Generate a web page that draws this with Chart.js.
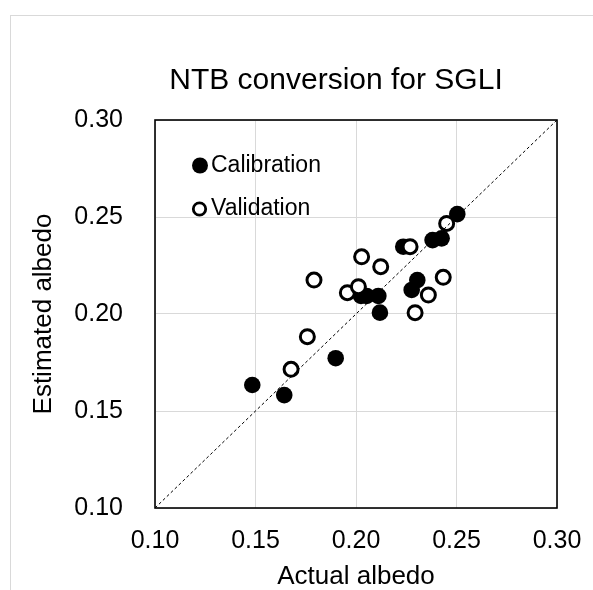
<!DOCTYPE html>
<html>
<head>
<meta charset="utf-8">
<script src="https://cdn.jsdelivr.net/npm/chart.js@4/dist/chart.umd.min.js"></script>
<style>
  html, body { margin: 0; padding: 0; background: #fff; overflow: hidden; }
  #wrap { position: relative; width: 593px; height: 590px; overflow: hidden; }
  #frame { position: absolute; left: 10px; top: 15px; width: 700px; height: 700px; border: 1px solid #d9d9d9; box-sizing: border-box; }
  #cv { position: absolute; left: 0; top: 0; }
</style>
</head>
<body>
<div id="wrap">
  <div id="frame"></div>
  <canvas id="cv" width="672" height="590"></canvas>
</div>
<script>
// ---- data ----
const calibrationX = [0.1484, 0.1643, 0.1899, 0.2119, 0.2025, 0.2053, 0.2111, 0.2235, 0.2277, 0.2305, 0.2381, 0.2426, 0.2504];
const calibrationY = [0.1634, 0.1582, 0.1772, 0.2007, 0.2093, 0.2093, 0.2093, 0.2347, 0.2124, 0.2175, 0.2381, 0.2390, 0.2515];
const validationX = [0.1677, 0.1758, 0.1791, 0.1957, 0.2012, 0.2028, 0.2123, 0.2269, 0.2294, 0.2360, 0.2434, 0.2451];
const validationY = [0.1715, 0.1883, 0.2175, 0.2110, 0.2141, 0.2295, 0.2244, 0.2347, 0.2007, 0.2098, 0.2189, 0.2467];
const oneToOneX = [0.10, 0.30];
const oneToOneY = [0.10, 0.30];
const axisMin = 0.10, axisMax = 0.30, axisStep = 0.05;
const titleText = 'NTB conversion for SGLI';
const xTitle = 'Actual albedo';
const yTitle = 'Estimated albedo';
const seriesNames = ['Calibration', 'Validation'];

const toPts = (xs, ys) => xs.map((x, i) => ({ x: x, y: ys[i] }));
const FONT = "'Liberation Sans', Arial, sans-serif";

const framePlugin = {
  id: 'frame',
  afterDatasetsDraw(chart) {
    const { ctx, chartArea: a } = chart;
    ctx.save();
    ctx.strokeStyle = '#000';
    ctx.lineWidth = 1.6;
    ctx.strokeRect(a.left, a.top, a.right - a.left, a.bottom - a.top);
    ctx.restore();
  }
};

const legendPlugin = {
  id: 'innerLegend',
  afterDraw(chart) {
    const { ctx, chartArea: a } = chart;
    ctx.save();
    ctx.font = '23px ' + FONT;
    ctx.textBaseline = 'middle';
    ctx.fillStyle = '#000';
    ctx.beginPath();
    ctx.arc(a.left + 45, a.top + 45.5, 8, 0, Math.PI * 2);
    ctx.fill();
    ctx.fillText(seriesNames[0], a.left + 56, a.top + 45.5);
    ctx.beginPath();
    ctx.arc(a.left + 44.5, a.top + 89, 6.2, 0, Math.PI * 2);
    ctx.fillStyle = '#fff';
    ctx.fill();
    ctx.lineWidth = 2.8;
    ctx.strokeStyle = '#000';
    ctx.stroke();
    ctx.fillStyle = '#000';
    ctx.fillText(seriesNames[1], a.left + 56, a.top + 89);
    ctx.restore();
  }
};

new Chart(document.getElementById('cv'), {
  type: 'scatter',
  data: {
    datasets: [
      {
        type: 'line',
        label: '1:1',
        data: toPts(oneToOneX, oneToOneY),
        borderColor: '#000',
        borderWidth: 1,
        borderDash: [3, 2.5],
        pointRadius: 0,
        fill: false,
        order: 0
      },
      {
        label: seriesNames[1],
        data: toPts(validationX, validationY),
        backgroundColor: '#fff',
        borderColor: '#000',
        borderWidth: 3,
        pointRadius: 7,
        order: 1
      },
      {
        label: seriesNames[0],
        data: toPts(calibrationX, calibrationY),
        backgroundColor: '#000',
        borderColor: '#000',
        borderWidth: 0,
        pointRadius: 8.3,
        order: 2
      }
    ]
  },
  options: {
    responsive: false,
    animation: false,
    layout: { padding: { left: 0, right: 0, top: 0, bottom: 0 } },
    plugins: {
      legend: { display: false },
      tooltip: { enabled: false },
      title: {
        display: true,
        text: titleText,
        color: '#000',
        font: { family: FONT, size: 30, weight: 'normal', lineHeight: 1.2 },
        padding: { top: 62.5, bottom: 21.5 }
      }
    },
    scales: {
      x: {
        type: 'linear',
        min: axisMin, max: axisMax,
        afterFit(s) { s.height = 82; },
        ticks: {
          stepSize: axisStep,
          color: '#000',
          padding: 18,
          font: { family: FONT, size: 25 },
          callback: v => v.toFixed(2)
        },
        grid: { color: '#d9d9d9', lineWidth: 1, drawTicks: false },
        border: { display: false },
        title: {
          display: true, text: xTitle, color: '#000',
          font: { family: FONT, size: 26, lineHeight: 1 },
          padding: { top: 0, bottom: 0 }
        }
      },
      y: {
        type: 'linear',
        min: axisMin, max: axisMax,
        afterFit(s) { s.width = 155; },
        ticks: {
          stepSize: axisStep,
          color: '#000',
          padding: 32,
          font: { family: FONT, size: 25 },
          callback: v => v.toFixed(2)
        },
        grid: { color: '#d9d9d9', lineWidth: 1, drawTicks: false },
        border: { display: false },
        title: {
          display: true, text: yTitle, color: '#000',
          font: { family: FONT, size: 26, lineHeight: 1 },
          padding: { top: 31, bottom: 0 }
        }
      },
      yRight: {
        type: 'linear',
        position: 'right',
        min: axisMin, max: axisMax,
        afterFit(s) { s.width = 115; },
        ticks: { display: false },
        grid: { display: false, drawTicks: false },
        border: { display: false },
        title: { display: false }
      }
    }
  },
  plugins: [framePlugin, legendPlugin]
});
</script>
</body>
</html>
